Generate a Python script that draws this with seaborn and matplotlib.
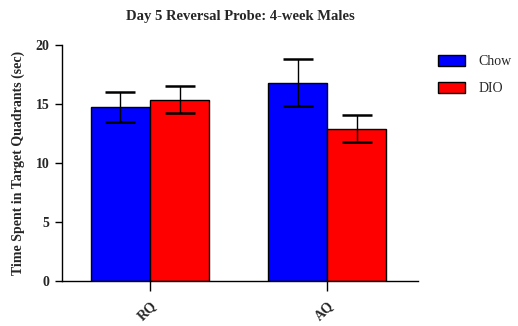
import matplotlib
matplotlib.use("Agg")
import matplotlib.pyplot as plt
import seaborn as sns
import pandas as pd
from matplotlib.patches import Patch

# Mean time in target quadrant and SEM per diet group
quadrants = ["RQ", "AQ"]
groups = ["Chow", "DIO"]
chow_mean = [14.75, 16.8]
dio_mean = [15.35, 12.9]
chow_sem = [1.25, 2.0]
dio_sem = [1.15, 1.15]
yticks = [0, 5, 10, 15, 20]
colors = {"Chow": "#0000FF", "DIO": "#FF0000"}

df = pd.DataFrame({
    "Quadrant": quadrants * 2,
    "Group": ["Chow"] * 2 + ["DIO"] * 2,
    "Time": chow_mean + dio_mean,
    "SEM": chow_sem + dio_sem,
})

sns.set_style("ticks")
plt.rcParams["font.family"] = ["Liberation Serif", "DejaVu Serif"]

fig = plt.figure(figsize=(5.18, 3.26), dpi=100)
ax = fig.add_axes([0.1197, 0.138, 0.807 - 0.1197, 0.862 - 0.138])

sns.barplot(data=df, x="Quadrant", y="Time", hue="Group", order=quadrants,
            hue_order=groups, palette=colors, width=0.667, errorbar=None,
            edgecolor="black", linewidth=1.0, saturation=1, ax=ax, legend=False)

# error bars at the centre of each bar
for i, g in enumerate(groups):
    sub = df[df["Group"] == g].set_index("Quadrant").loc[quadrants]
    xs = [j + (i - 0.5) * 0.3335 for j in range(len(quadrants))]
    ax.errorbar(xs, sub["Time"], yerr=sub["SEM"], fmt="none", ecolor="black",
                elinewidth=1.0, capsize=11, capthick=1.8, zorder=5)

ax.set_xlim(-0.497, 1.514)
ax.set_ylim(0, 20)
ax.set_yticks(yticks)
ax.set_yticklabels([str(t) for t in yticks], fontweight="bold", fontsize=10)
ax.set_xticks(range(len(quadrants)))
ax.set_xticklabels(quadrants, rotation=45, ha="right", rotation_mode="anchor",
                   fontweight="bold", fontsize=10)
ax.tick_params(axis="y", length=5, width=1, color="black", pad=4)
ax.tick_params(axis="x", length=7, width=1, color="black", pad=6)
for side in ["top", "right"]:
    ax.spines[side].set_visible(False)
for side in ["left", "bottom"]:
    ax.spines[side].set_color("black")
    ax.spines[side].set_linewidth(1.0)

ax.set_xlabel("")
ax.set_ylabel("Time Spent in Target Quadrants (sec)", fontweight="bold",
              fontsize=10, labelpad=8)
ax.set_title("Day 5 Reversal Probe: 4-week Males", fontweight="bold",
             fontsize=10.5, pad=18)

handles = [Patch(facecolor=colors[g], edgecolor="black", linewidth=1.0) for g in groups]
ax.legend(handles, groups, loc="upper left", bbox_to_anchor=(1.022, 1.01),
          frameon=False, handlelength=1.9, handleheight=0.8, labelspacing=1.0,
          handletextpad=1.0,
          prop={"family": "Liberation Serif", "size": 10})

fig.savefig("out.png", dpi=100)
